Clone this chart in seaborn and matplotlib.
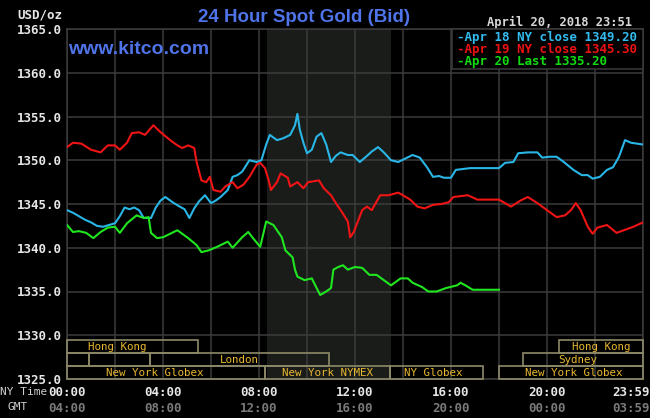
import matplotlib
matplotlib.use("Agg")
import matplotlib.pyplot as plt
from matplotlib.patches import Rectangle
import seaborn as sns
import pandas as pd

# ---------------- data ----------------
apr18_hours = [0.0, 0.25, 0.5, 0.75, 1.0, 1.25, 1.5, 1.75, 2.0, 2.2, 2.4, 2.6, 2.8, 3.0, 3.2, 3.5, 3.7, 3.9,
               4.1, 4.4, 4.7, 4.9, 5.1, 5.3, 5.5, 5.75, 6.0, 6.2, 6.4, 6.7, 6.9, 7.1, 7.3, 7.6, 7.9, 8.1,
               8.3, 8.45, 8.75, 9.0, 9.3, 9.5, 9.6, 9.7, 9.85, 10.0, 10.2, 10.4, 10.6, 10.8, 11.0, 11.2,
               11.4, 11.7, 11.9, 12.2, 12.5, 12.7, 12.96, 13.2, 13.5, 13.8, 14.1, 14.4, 14.7, 15.0, 15.25,
               15.5, 15.7, 16.0, 16.2, 16.5, 16.8, 17.4, 18.0, 18.25, 18.6, 18.8, 19.2, 19.6, 19.8, 20.1,
               20.4, 20.7, 21.1, 21.45, 21.7, 21.9, 22.2, 22.5, 22.75, 23.0, 23.25, 23.5, 23.75, 24.0]
apr18_values = [1344.3, 1344.0, 1343.6, 1343.2, 1342.9, 1342.5, 1342.4, 1342.6, 1342.8, 1343.6, 1344.6,
                1344.4, 1344.6, 1344.3, 1343.4, 1343.4, 1344.6, 1345.4, 1345.8, 1345.2, 1344.7, 1344.4,
                1343.4, 1344.5, 1345.3, 1346.0, 1345.1, 1345.4, 1345.8, 1346.6, 1348.1, 1348.3, 1348.7,
                1350.0, 1349.8, 1350.0, 1351.8, 1352.9, 1352.3, 1352.5, 1352.9, 1354.0, 1355.3, 1353.5,
                1352.0, 1350.8, 1351.2, 1352.7, 1353.1, 1351.8, 1349.8, 1350.5, 1350.9, 1350.6, 1350.6,
                1349.8, 1350.5, 1351.0, 1351.5, 1350.9, 1350.0, 1349.8, 1350.2, 1350.6, 1350.3, 1349.2,
                1348.1, 1348.2, 1348.0, 1348.0, 1348.9, 1349.0, 1349.1, 1349.1, 1349.1, 1349.7, 1349.8,
                1350.8, 1350.9, 1350.9, 1350.3, 1350.4, 1350.4, 1349.8, 1348.9, 1348.3, 1348.3, 1347.9,
                1348.1, 1348.9, 1349.2, 1350.4, 1352.3, 1352.0, 1351.9, 1351.8]

apr19_hours = [0.0, 0.25, 0.6, 1.0, 1.4, 1.7, 2.0, 2.2, 2.5, 2.7, 3.0, 3.25, 3.6, 3.9, 4.3, 4.6, 4.8, 5.05,
               5.3, 5.4, 5.6, 5.8, 5.95, 6.1, 6.4, 6.6, 6.9, 7.1, 7.35, 7.6, 7.9, 8.05, 8.25, 8.4, 8.5,
               8.75, 8.9, 9.2, 9.3, 9.6, 9.85, 10.05, 10.5, 10.7, 11.0, 11.25, 11.45, 11.7, 11.8, 11.95,
               12.3, 12.5, 12.7, 13.05, 13.4, 13.8, 14.0, 14.3, 14.6, 14.9, 15.25, 15.6, 15.9, 16.1, 16.4,
               16.7, 17.1, 17.5, 18.0, 18.5, 18.9, 19.2, 19.6, 20.0, 20.4, 20.75, 21.0, 21.2, 21.4, 21.7,
               21.9, 22.1, 22.5, 22.9, 23.2, 23.6, 24.0]
apr19_values = [1351.5, 1352.0, 1351.9, 1351.2, 1350.9, 1351.7, 1351.7, 1351.2, 1352.0, 1353.1, 1353.2,
                1352.9, 1354.0, 1353.2, 1352.3, 1351.7, 1351.4, 1351.7, 1351.4, 1349.8, 1347.7, 1347.5,
                1348.1, 1346.6, 1346.4, 1347.0, 1347.5, 1346.8, 1347.2, 1348.1, 1349.5, 1349.7, 1349.1,
                1347.7, 1346.6, 1347.5, 1348.5, 1348.0, 1347.0, 1347.5, 1346.8, 1347.5, 1347.7, 1346.8,
                1346.0, 1344.9, 1344.1, 1343.0, 1341.2, 1341.8, 1344.3, 1344.7, 1344.3, 1346.0, 1346.0,
                1346.3, 1346.0, 1345.5, 1344.7, 1344.5, 1344.9, 1345.0, 1345.2, 1345.8, 1345.9, 1346.0,
                1345.5, 1345.5, 1345.5, 1344.7, 1345.4, 1345.8, 1345.1, 1344.3, 1343.5, 1343.7, 1344.3,
                1345.1, 1344.3, 1342.4, 1341.6, 1342.3, 1342.6, 1341.7, 1342.0, 1342.4, 1342.9]

apr20_hours = [0.0, 0.25, 0.5, 0.8, 1.1, 1.4, 1.7, 2.0, 2.2, 2.5, 2.9, 3.2, 3.4, 3.5, 3.75, 4.0, 4.3, 4.6,
               4.8, 5.05, 5.4, 5.6, 5.9, 6.25, 6.7, 6.9, 7.3, 7.55, 7.75, 8.05, 8.3, 8.6, 8.95, 9.1, 9.4,
               9.5, 9.6, 9.9, 10.2, 10.4, 10.55, 10.8, 11.0, 11.1, 11.3, 11.5, 11.7, 12.0, 12.3, 12.6,
               12.9, 13.0, 13.5, 13.9, 14.2, 14.4, 14.8, 15.05, 15.4, 15.8, 16.25, 16.4, 16.6, 16.9,
               17.5, 18.0]
apr20_values = [1342.6, 1341.8, 1341.9, 1341.7, 1341.1, 1341.8, 1342.3, 1342.4, 1341.7, 1342.8, 1343.7,
                1343.4, 1343.5, 1341.7, 1341.1, 1341.2, 1341.6, 1342.0, 1341.6, 1341.1, 1340.3, 1339.5,
                1339.7, 1340.1, 1340.7, 1340.0, 1341.2, 1341.8, 1341.1, 1340.1, 1343.0, 1342.6, 1341.2,
                1339.7, 1338.9, 1337.5, 1336.7, 1336.3, 1336.5, 1335.4, 1334.6, 1335.0, 1335.4, 1337.5,
                1337.8, 1338.0, 1337.5, 1337.8, 1337.7, 1336.9, 1336.9, 1336.7, 1335.7, 1336.5, 1336.5,
                1336.0, 1335.5, 1335.0, 1335.0, 1335.4, 1335.7, 1336.0, 1335.7, 1335.2, 1335.2, 1335.2]

series_names = ["Apr 18 NY close 1349.20", "Apr 19 NY close 1345.30", "Apr 20 Last 1335.20"]
y_ticks = [1325.0, 1330.0, 1335.0, 1340.0, 1345.0, 1350.0, 1355.0, 1360.0, 1365.0]
ny_time_ticks = [0, 4, 8, 12, 16, 20, 24]
ny_time_labels = ["00:00", "04:00", "08:00", "12:00", "16:00", "20:00", "23:59"]
gmt_labels = ["04:00", "08:00", "12:00", "16:00", "20:00", "00:00", "03:59"]

# market sessions: row (0 = top), start hour, end hour, label, label centre hour
session_rows = [0, 0, 1, 1, 1, 1, 2, 2, 2, 2]
session_start = [0.0, 20.5, 0.0, 0.92, 3.46, 19.0, 0.0, 8.25, 13.46, 18.0]
session_end = [5.46, 24.0, 0.92, 3.46, 10.92, 24.0, 8.25, 13.46, 17.33, 24.0]
session_label = ["Hong Kong", "Hong Kong", "", "", "London", "Sydney",
                 "New York Globex", "New York NYMEX", "NY Globex", "New York Globex"]
session_label_at = [2.1, 22.25, 0, 0, 7.2, 21.3, 3.65, 10.85, 15.25, 21.1]
nymex_pit = (8.33, 13.5)

# ---------------- styling ----------------
W, H = 650, 418
BG = "#000000"
GRID = "#3c3c3c"
LINE_COLORS = ["#29b6e6", "#f01414", "#1fe61f"]
TEXT_COLORS = ["#33bbee", "#ee1111", "#11dd11"]
MONO = ["DejaVu Sans Mono"]

fig = plt.figure(figsize=(W / 100, H / 100), dpi=100, facecolor=BG)
ax = fig.add_axes([67 / W, 39 / H, 576 / W, 350 / H], facecolor=BG)


def fx(px):
    return px / W


def fy(py):
    return 1 - py / H


df = pd.concat([
    pd.DataFrame({"hour": apr18_hours, "price": apr18_values, "series": series_names[0]}),
    pd.DataFrame({"hour": apr19_hours, "price": apr19_values, "series": series_names[1]}),
    pd.DataFrame({"hour": apr20_hours, "price": apr20_values, "series": series_names[2]}),
])

ax.axvspan(*nymex_pit, color="#1a1c1a", zorder=0, lw=0)

sns.lineplot(data=df, x="hour", y="price", hue="series", palette=LINE_COLORS,
             hue_order=series_names, linewidth=1.5, ax=ax, legend=False, zorder=3,
             estimator=None, sort=False)

ax.set_xlim(0, 24)
ax.set_ylim(1325, 1365)
ax.set_xticks(range(0, 25, 2))
ax.set_xticklabels([])
ax.set_yticks(y_ticks)
ax.set_yticklabels([f"{v:.1f}" for v in y_ticks], color="#e6e6e6", fontsize=9,
                   fontweight="bold", family=MONO)
ax.tick_params(axis="both", length=0, pad=4)
ax.grid(True, color=GRID, lw=1.1, zorder=1)
ax.set_axisbelow(True)
ax.set_xlabel("")
ax.set_ylabel("")
for s in ax.spines.values():
    s.set_color(GRID)
    s.set_linewidth(1.1)

# session bars
row_top = [1329.4, 1327.95, 1326.45]
row_h = [1.45, 1.5, 1.45]
for r, s0, s1, lab, lat in zip(session_rows, session_start, session_end, session_label, session_label_at):
    ax.add_patch(Rectangle((s0, row_top[r] - row_h[r]), s1 - s0, row_h[r], fill=False,
                           edgecolor="#8e8a68", lw=1.2, zorder=4, clip_on=False))
    if lab:
        ax.text(lat, row_top[r] - row_h[r] / 2, lab, color="#e8b830", fontsize=7.8,
                family=MONO, ha="center", va="center", zorder=5)

# x labels (NY time / GMT)
trans = ax.get_xaxis_transform()
for h, l1, l2 in zip(ny_time_ticks, ny_time_labels, gmt_labels):
    ha = "center" if h < 24 else "right"
    xo = h if h < 24 else 24.3
    ax.text(xo, -13 / 350, l1, transform=trans, ha=ha, va="center", color="#e6e6e6",
            fontsize=9, fontweight="bold", family=MONO, clip_on=False)
    ax.text(xo, -29 / 350, l2, transform=trans, ha=ha, va="center", color="#7a7a7a",
            fontsize=9, fontweight="bold", family=MONO, clip_on=False)
fig.text(fx(0), fy(392), "NY Time", color="#d0d0d0", fontsize=8, family=MONO, ha="left", va="center")
fig.text(fx(8), fy(407), "GMT", color="#d0d0d0", fontsize=8, family=MONO, ha="left", va="center")

# header texts
fig.text(fx(17), fy(15), "USD/oz", color="#e6e6e6", fontsize=9, fontweight="bold", family=MONO,
         ha="left", va="center")
fig.text(fx(304), fy(17), "24 Hour Spot Gold (Bid)", color="#4f73e8", fontsize=13.5,
         fontweight="bold", family=["Liberation Sans"], ha="center", va="center")
fig.text(fx(632), fy(22), "April 20, 2018 23:51", color="#d8d8d8", fontsize=8.7,
         fontweight="bold", family=MONO, ha="right", va="center")
fig.text(fx(68), fy(50), "www.kitco.com", color="#4f73e8", fontsize=14, fontweight="bold",
         family=["Liberation Sans"], ha="left", va="center")

# legend box
fig.patches.append(Rectangle((fx(452), fy(69)), (643 - 452) / W, 40 / H, transform=fig.transFigure,
                             facecolor=BG, edgecolor=GRID, lw=1.1, zorder=6))
for i, (name, col) in enumerate(zip(series_names, TEXT_COLORS)):
    fig.text(fx(457), fy(37 + 12.5 * i), "-" + name, color=col, fontsize=9, fontweight="bold",
             family=MONO, ha="left", va="center", zorder=7)

fig.savefig("out.png", dpi=100, facecolor=BG)
